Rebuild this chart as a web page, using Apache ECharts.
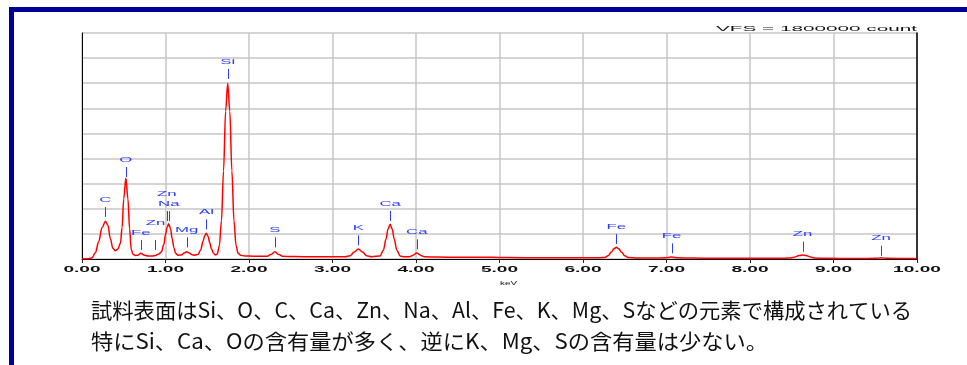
<!DOCTYPE html>
<html>
<head>
<meta charset="utf-8">
<script src="https://cdn.jsdelivr.net/npm/echarts@6/dist/echarts.min.js"></script>
<style>
  html, body { margin: 0; padding: 0; background: #ffffff; }
  #chart { width: 967px; height: 365px; }
</style>
</head>
<body>
<div id="chart"></div>
<script>
// EDS spectrum of the sample surface: energy (keV) against counts
const energyKeV = [
  0.00, 0.08, 0.12, 0.16, 0.20, 0.24, 0.28, 0.31, 0.34, 0.37, 0.40, 0.43,
  0.46, 0.48, 0.50, 0.525, 0.55, 0.57, 0.59, 0.61, 0.64,
  0.67, 0.705, 0.74, 0.79, 0.84, 0.88, 0.92,
  0.95, 0.98, 1.00, 1.02, 1.038, 1.06, 1.08, 1.10, 1.12, 1.15,
  1.19, 1.225, 1.255, 1.285, 1.32, 1.35,
  1.39, 1.42, 1.45, 1.47, 1.488, 1.51, 1.53, 1.55, 1.575, 1.60,
  1.62, 1.645, 1.67, 1.695, 1.72, 1.745, 1.77, 1.795, 1.82, 1.845, 1.87, 1.90, 1.95, 2.05, 2.18,
  2.22, 2.26, 2.31, 2.36, 2.40, 2.55, 2.75, 2.95, 3.15,
  3.21, 3.26, 3.31, 3.36, 3.41, 3.47,
  3.57, 3.61, 3.64, 3.665, 3.69, 3.715, 3.74, 3.77, 3.81, 3.86,
  3.92, 3.96, 4.01, 4.06, 4.10, 4.25, 4.50, 4.75, 4.90, 5.10, 5.50, 5.90, 6.20,
  6.26, 6.30, 6.34, 6.37, 6.40, 6.43, 6.46, 6.50, 6.54, 6.65, 6.90,
  6.98, 7.06, 7.14, 7.30, 7.60, 8.00, 8.40,
  8.49, 8.54, 8.59, 8.63, 8.67, 8.72, 8.77, 8.90, 9.30,
  9.50, 9.57, 9.64, 10.00
];
const counts = [
  0, 2000, 10000, 50000, 140000, 250000, 300000, 270000, 160000, 85000, 66000, 80000,
  125000, 250000, 480000, 645000, 480000, 240000, 75000, 38000, 28000,
  30000, 45000, 32000, 24000, 24000, 28000, 40000,
  55000, 115000, 196000, 253000, 280000, 241000, 163000, 92000, 45000, 30000,
  32000, 48000, 58000, 48000, 33000, 30000,
  37000, 70000, 141000, 188000, 205000, 180000, 130000, 81000, 45000, 32000,
  40000, 106000, 304000, 701000, 1177000, 1400000, 1177000, 701000, 304000, 106000, 45000, 30000, 24000, 22000, 21000,
  22000, 35000, 58000, 35000, 22000, 19000, 18000, 17000, 17000,
  25500, 55000, 80000, 55000, 25500, 18000,
  24000, 70000, 157000, 239000, 276000, 239000, 157000, 70000, 24000, 17000,
  18000, 28000, 48000, 28000, 18000, 15000, 14000, 13000, 13500, 11000, 10000, 9500, 10000,
  12300, 25000, 55000, 81000, 93000, 81000, 55000, 25000, 12300, 8500, 7500,
  9000, 15000, 9000, 7000, 6000, 5500, 5500,
  8600, 16800, 28000, 32000, 28000, 16800, 8600, 5000, 4500,
  5000, 9000, 5000, 4500
];

// Axis scale
const fullScale = 1800000;
const xTickValues = [0, 1, 2, 3, 4, 5, 6, 7, 8, 9, 10];
const xTickLabels = ['0.00', '1.00', '2.00', '3.00', '4.00', '5.00', '6.00', '7.00', '8.00', '9.00', '10.00'];

// Identified element lines: name, energy (keV), count level at the foot of the marker
const peakElements = ['C', 'O', 'Fe', 'Zn', 'Zn', 'Na', 'Mg', 'Al', 'Si', 'S', 'K', 'Ca', 'Ca', 'Fe', 'Fe', 'Zn', 'Zn'];
const peakEnergies = [0.28, 0.525, 0.705, 0.88, 1.015, 1.04, 1.255, 1.49, 1.745, 2.31, 3.31, 3.69, 4.01, 6.40, 7.06, 8.63, 9.57];
const markerLevels = [335000, 653000, 72000, 72000, 302000, 302000, 93000, 236000, 1434000, 93000, 109000, 303000, 77000, 119000, 45000, 58000, 26000];

const summaryLines = [
  '試料表面はSi、O、C、Ca、Zn、Na、Al、Fe、K、Mg、Sなどの元素で構成されている',
  '特にSi、Ca、Oの含有量が多く、逆にK、Mg、Sの含有量は少ない。'
];

// Labels that share a crowded spot are lifted by one text row
const markerRow = [0, 0, 0, 1, 1, 0, 0, 0, 0, 0, 0, 0, 0, 0, 0, 0, 0];

const LABEL_BLUE = '#2b3cff';
const FRAME_BLUE = '#000096';
const GRID_GRAY = '#c6c6c6';
const SANS = '"Liberation Sans", Arial, sans-serif';
const NOTE_FONT = '21px "Noto Sans CJK JP", sans-serif';

// Caption lines are set to a fixed run width each
const NOTE_LEFT = 91;
const noteWidths = [821, 677];
const measureCtx = document.createElement('canvas').getContext('2d');
measureCtx.font = NOTE_FONT;
const noteScale = summaryLines.map((s, i) => noteWidths[i] / measureCtx.measureText(s).width);

const chart = echarts.init(document.getElementById('chart'), null, { renderer: 'canvas' });

chart.setOption({
  animation: false,
  backgroundColor: '#ffffff',
  grid: { left: 82, right: 50, top: 33, bottom: 106, containLabel: false },
  xAxis: {
    type: 'value',
    min: 0,
    max: 10,
    interval: 1,
    axisLine: { show: true, onZero: false, lineStyle: { color: '#000000', width: 1 } },
    axisTick: { show: true, length: 4, lineStyle: { color: '#222222', width: 1 } },
    axisLabel: { show: false },
    splitLine: { show: true, lineStyle: { color: GRID_GRAY, width: 1.5 } }
  },
  yAxis: [
    {
      type: 'value',
      min: 0,
      max: fullScale,
      interval: fullScale / 9,
      axisLine: { show: true, lineStyle: { color: '#000000', width: 1 } },
      axisTick: { show: false },
      axisLabel: { show: false },
      splitLine: { show: true, lineStyle: { color: GRID_GRAY, width: 1.5 } }
    },
    {
      type: 'value',
      position: 'right',
      min: 0,
      max: fullScale,
      interval: fullScale / 9,
      axisLine: { show: true, lineStyle: { color: '#000000', width: 1.5 } },
      axisTick: { show: false },
      axisLabel: { show: false },
      splitLine: { show: false }
    }
  ],
  series: [
    {
      name: 'spectrum',
      type: 'line',
      data: energyKeV.map((e, i) => [e, counts[i]]),
      smooth: 0.35,
      smoothMonotone: 'x',
      symbol: 'none',
      lineStyle: { color: '#ff0000', width: 1.5 },
      z: 4,
      silent: true
    },
    {
      // element markers: short tick plus stretched element symbol
      name: 'elements',
      type: 'custom',
      coordinateSystem: 'cartesian2d',
      clip: false,
      silent: true,
      z: 5,
      encode: { x: 0, y: 1 },
      data: peakEnergies.map((e, i) => [e, markerLevels[i], i]),
      renderItem: function (params, api) {
        const idx = api.value(2);
        const p = api.coord([api.value(0), api.value(1)]);
        const x = Math.round(p[0]) + 0.5;
        const yFoot = p[1];
        const yTop = yFoot - 10;
        return {
          type: 'group',
          children: [
            {
              type: 'line',
              shape: { x1: x, y1: yFoot, x2: x, y2: yTop },
              style: { stroke: LABEL_BLUE, lineWidth: 1 }
            },
            {
              type: 'text',
              x: p[0],
              y: yTop - 7.5 - markerRow[idx] * 10,
              scaleX: 2.1,
              style: {
                text: peakElements[idx],
                fill: LABEL_BLUE,
                font: '8px ' + SANS,
                align: 'center',
                verticalAlign: 'middle'
              }
            }
          ]
        };
      }
    },
    {
      // energy tick labels along the bottom axis
      name: 'ticks',
      type: 'custom',
      coordinateSystem: 'cartesian2d',
      clip: false,
      silent: true,
      z: 5,
      encode: { x: 0, y: 1 },
      data: xTickValues.map((v, i) => [v, 0, i]),
      renderItem: function (params, api) {
        const i = api.value(2);
        const p = api.coord([api.value(0), 0]);
        return {
          type: 'text',
          x: p[0],
          y: p[1] + 10.5,
          scaleX: 2.25,
          style: {
            text: xTickLabels[i],
            fill: '#111111',
            font: 'bold 8.5px ' + SANS,
            align: 'center',
            verticalAlign: 'middle'
          }
        };
      }
    }
  ],
  graphic: [
    { type: 'rect', shape: { x: 9, y: 7, width: 958, height: 5 }, style: { fill: FRAME_BLUE }, silent: true },
    { type: 'rect', shape: { x: 9, y: 7, width: 5, height: 358 }, style: { fill: FRAME_BLUE }, silent: true },
    {
      type: 'text', x: 917, y: 29, scaleX: 2.59, silent: true,
      style: { text: 'VFS = ' + fullScale + ' count', fill: '#111111', font: '8px ' + SANS, align: 'right', verticalAlign: 'middle' }
    },
    {
      type: 'text', x: 508.5, y: 283, scaleX: 1.65, silent: true,
      style: { text: 'keV', fill: '#111111', font: '6px ' + SANS, align: 'center', verticalAlign: 'middle' }
    },
    {
      type: 'text', x: NOTE_LEFT, y: 310, scaleX: noteScale[0], silent: true,
      style: { text: summaryLines[0], fill: '#111111', font: NOTE_FONT, align: 'left', verticalAlign: 'middle' }
    },
    {
      type: 'text', x: NOTE_LEFT, y: 341.5, scaleX: noteScale[1], silent: true,
      style: { text: summaryLines[1], fill: '#111111', font: NOTE_FONT, align: 'left', verticalAlign: 'middle' }
    }
  ]
});
</script>
</body>
</html>
